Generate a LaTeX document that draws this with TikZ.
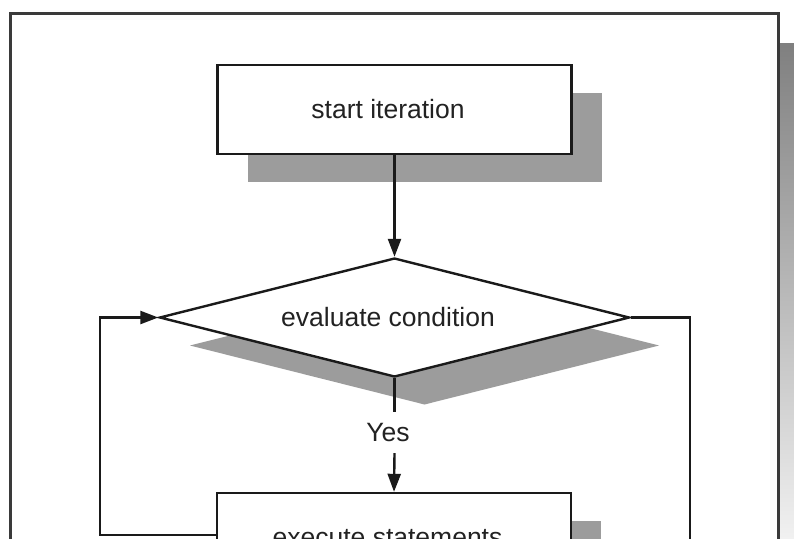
\documentclass[tikz,border=0pt]{standalone}
\usepackage{fontspec}
\setmainfont{Liberation Sans}
\usetikzlibrary{shapes.geometric,arrows.meta,shadows}
\definecolor{inkline}{HTML}{1A1A1A}
\definecolor{inktext}{HTML}{222222}
\definecolor{shade}{HTML}{9C9C9C}
\definecolor{framec}{HTML}{3A3A3A}
\tikzset{
  flowtext/.style={font=\fontsize{26.5}{30}\selectfont, text=inktext,
    execute at end node=\hspace*{13pt}},
  castshadow/.style={drop shadow={shadow xshift=30pt, shadow yshift=-28pt, fill=shade, opacity=1}},
  procbox/.style={rectangle, draw=inkline, line width=2.4pt, fill=white, inner sep=0pt,
    minimum width=354pt, flowtext, castshadow},
  decision/.style={diamond, draw=inkline, line width=2.4pt, fill=white, inner sep=0pt,
    minimum width=470pt, minimum height=119pt, aspect=3.95, flowtext, castshadow},
  link/.style={draw=inkline, line width=2.4pt},
  flowarrow/.style={link, -{Triangle[length=18pt,width=13pt]}},
}
\begin{document}
\begin{tikzpicture}[x=1pt,y=-1pt]
  \useasboundingbox (0,0) rectangle (794,538);
  \clip (0,0) rectangle (794,538);
  \fill[white] (0,0) rectangle (794,538);

  % page frame with its shadow on the right
  \fill[shade] (780,43) rectangle (810,600);
  \draw[framec, line width=3pt, fill=white] (10,13) rectangle (778,600);

  % flow nodes
  \node[procbox, minimum height=89pt] (start) at (394.5,109.5) {start iteration};
  \node[decision] (cond) at (394.5,317.5) {evaluate condition};
  \node[procbox, minimum height=90pt] (exec) at (394,538) {execute statements};
  \node[flowtext, inner sep=0pt, minimum height=41pt] (yes) at (394.5,432.5) {Yes};

  % helper points for the loop and exit lines
  \coordinate (loopL) at (100,535);
  \coordinate (exitR) at (690,600);

  % connectors
  \draw[flowarrow] (start.south) -- (cond.north);
  \draw[link] (cond.south) -- (yes.north);
  \draw[flowarrow] (yes.south) -- (exec.north);
  \draw[flowarrow] (exec.west |- loopL) -- (loopL) |- (cond.west);
  \draw[link] (cond.east) -| (exitR);
\end{tikzpicture}
\end{document}
